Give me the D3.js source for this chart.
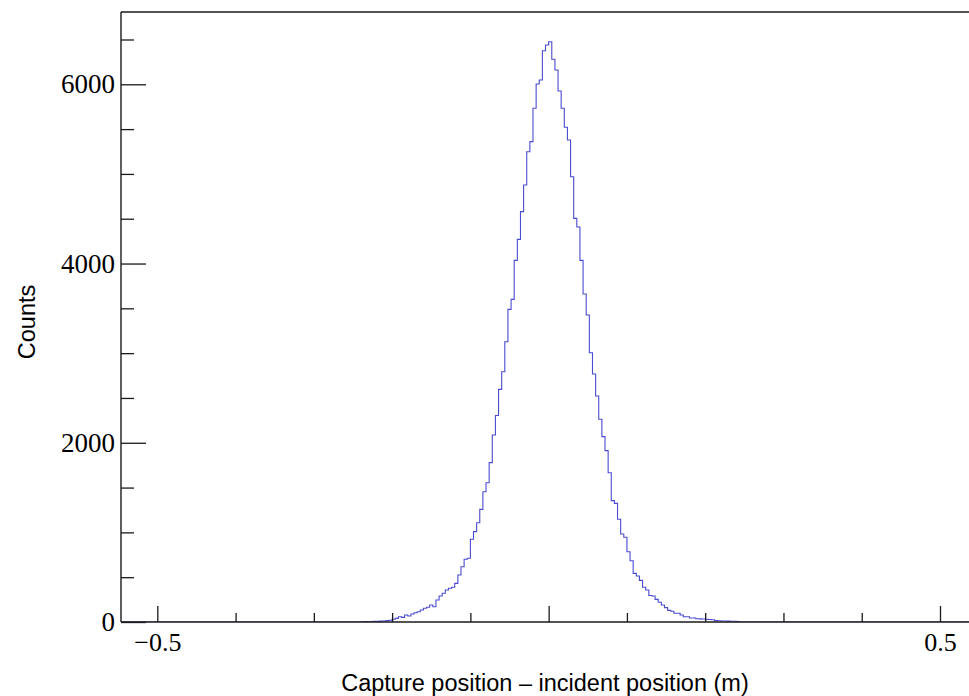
<!DOCTYPE html>
<html>
<head>
<meta charset="utf-8">
<script src="https://cdn.jsdelivr.net/npm/d3@7"></script>
<style>
  html, body { margin: 0; padding: 0; background: #fff; }
  svg { display: block; }
</style>
</head>
<body>
<svg id="chart" width="969" height="696"></svg>
<script>
// ---- data ----
const binStart = -0.24;   // lower edge of first bin (m)
const binWidth = 0.004;   // bin width (m)
const counts = [
  2, 4, 3, 6, 8, 7, 10, 12, 15, 20,
  30, 41, 59, 52, 78, 67, 89, 104, 115, 134,
  153, 164, 190, 171, 245, 290, 320, 357, 376, 387,
  431, 524, 617, 700, 711, 923, 1008, 1108, 1257, 1454,
  1554, 1778, 2087, 2305, 2596, 2793, 3128, 3489, 3600, 4035,
  4270, 4579, 4876, 5248, 5360, 5732, 6003, 6048, 6375, 6438,
  6475, 6279, 6159, 5925, 5732, 5520, 5378, 4969, 4504, 4408,
  4035, 3660, 3426, 3005, 2767, 2522, 2262, 2068, 1912, 1666,
  1354, 1324, 1146, 982, 945, 784, 684, 543, 513, 465,
  387, 357, 295, 290, 253, 220, 190, 160, 130, 120,
  97, 97, 78, 59, 59, 45, 45, 37, 35, 33,
  30, 28, 25, 15, 14, 12, 12, 10, 9, 8,
  6
];
const yMajorTicks = [0, 2000, 4000, 6000];
const yMinorTicks = [500, 1000, 1500, 2500, 3000, 3500, 4500, 5000, 5500, 6500];
const xMajorTicks = [-0.5, 0, 0.5];
const xMajorLabels = ["\u22120.5", "", "0.5"];
const xMinorTicks = [-0.4, -0.3, -0.2, -0.1, 0.1, 0.2, 0.3, 0.4];
const xTitle = "Capture position \u2013 incident position (m)";
const yTitle = "Counts";

(function () {
// ---- layout ----
const svg = d3.select("#chart");
const pLeft = 121, pRight = 969, pTop = 12, pBottom = 622;

const x = d3.scaleLinear().domain([-0.5, 0.5]).range([157.3, 940]);
const y = d3.scaleLinear().domain([0, 6000]).range([pBottom, 84.3]);

const xMin = x.invert(pLeft), xMax = x.invert(pRight);

svg.append("defs").append("clipPath").attr("id", "clip")
  .append("rect").attr("x", pLeft).attr("y", pTop).attr("width", pRight - pLeft).attr("height", pBottom - pTop);

// histogram outline
const pts = [[xMin, 0]];
counts.forEach((c, i) => pts.push([binStart + i * binWidth, c]));
pts.push([binStart + counts.length * binWidth, 0]);
pts.push([xMax, 0]);

const line = d3.line().x(d => x(d[0])).y(d => y(d[1])).curve(d3.curveStepAfter);
svg.append("path")
  .attr("clip-path", "url(#clip)")
  .attr("d", line(pts))
  .attr("fill", "none")
  .attr("stroke", "#4b4bd2")
  .attr("stroke-width", 1.1);

const axisColor = "#1a1a1a";
const tickFont = "'Liberation Serif', 'Times New Roman', serif";

// y axis major
const yAxis = svg.append("g").attr("transform", `translate(${pLeft},0)`)
  .call(d3.axisLeft(y).tickValues(yMajorTicks).tickSize(-25).tickPadding(6).tickFormat(d3.format("d")));
yAxis.select(".domain").remove();
yAxis.selectAll("line").attr("stroke", axisColor).attr("stroke-width", 1.3);
yAxis.selectAll("text").attr("font-family", tickFont).attr("font-size", 27).attr("fill", "#000");

// y axis minor
const yMinor = svg.append("g").attr("transform", `translate(${pLeft},0)`)
  .call(d3.axisLeft(y).tickValues(yMinorTicks).tickSize(-13).tickFormat(""));
yMinor.select(".domain").remove();
yMinor.selectAll("line").attr("stroke", axisColor).attr("stroke-width", 1.3);

// x axis major
const xAxis = svg.append("g").attr("transform", `translate(0,${pBottom})`)
  .call(d3.axisBottom(x).tickValues(xMajorTicks).tickSize(-16).tickPadding(11)
    .tickFormat((d, i) => xMajorLabels[i]));
xAxis.select(".domain").remove();
xAxis.selectAll("line").attr("stroke", axisColor).attr("stroke-width", 1.3);
xAxis.selectAll("text").attr("font-family", tickFont).attr("font-size", 26).attr("fill", "#000");

// x axis minor
const xMinor = svg.append("g").attr("transform", `translate(0,${pBottom})`)
  .call(d3.axisBottom(x).tickValues(xMinorTicks).tickSize(-9).tickFormat(""));
xMinor.select(".domain").remove();
xMinor.selectAll("line").attr("stroke", axisColor).attr("stroke-width", 1.3);

// frame lines
svg.append("line").attr("x1", pLeft).attr("x2", pLeft).attr("y1", pTop).attr("y2", pBottom)
  .attr("stroke", axisColor).attr("stroke-width", 1.4);
svg.append("line").attr("x1", pLeft).attr("x2", pRight).attr("y1", pBottom).attr("y2", pBottom)
  .attr("stroke", axisColor).attr("stroke-width", 1.4);
svg.append("line").attr("x1", pLeft).attr("x2", pRight).attr("y1", pTop).attr("y2", pTop)
  .attr("stroke", axisColor).attr("stroke-width", 1.4);

// titles
const titleFont = "'Liberation Sans', Arial, Helvetica, sans-serif";
svg.append("text")
  .attr("x", 545).attr("y", 691)
  .attr("text-anchor", "middle")
  .attr("font-family", titleFont).attr("font-size", 23.5).attr("fill", "#000")
  .text(xTitle);
svg.append("text")
  .attr("transform", "translate(35,322) rotate(-90)")
  .attr("text-anchor", "middle")
  .attr("font-family", titleFont).attr("font-size", 23.5).attr("fill", "#000")
  .text(yTitle);
})();
</script>
</body>
</html>
